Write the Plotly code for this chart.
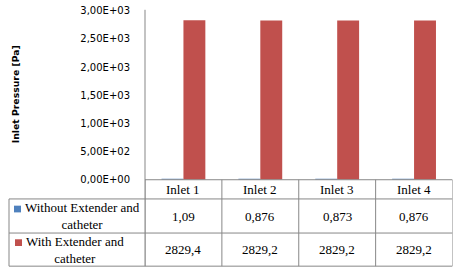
import plotly.graph_objects as go

categories = ["Inlet 1", "Inlet 2", "Inlet 3", "Inlet 4"]
series_names = ["Without Extender and<br>catheter", "With Extender and<br>catheter"]
without_vals = [1.09, 0.876, 0.873, 0.876]
with_vals = [2829.4, 2829.2, 2829.2, 2829.2]
tick_vals = [0, 500, 1000, 1500, 2000, 2500, 3000]
tick_labels = ["0,00E+00", "5,00E+02", "1,00E+03", "1,50E+03", "2,00E+03", "2,50E+03", "3,00E+03"]
colors = ["#4F81BD", "#C0504D"]

W, H = 456, 276
def py(p):
    return (H - p) / H
def px(p):
    return p / W

grid = "#878787"
serif = "Times New Roman, Liberation Serif, serif"

fig = go.Figure()
for name, vals, c in zip(series_names, [without_vals, with_vals], colors):
    fig.add_trace(go.Bar(x=categories, y=vals, name=name, hoverinfo="skip",
                         marker=dict(color=c, line=dict(width=0))))

shapes = []
shapes.append(dict(type="line", xref="paper", yref="paper", x0=px(145), x1=px(145), y0=py(5), y1=py(272), line=dict(color=grid, width=1)))
for yy in [182, 202, 237.5, 272]:
    shapes.append(dict(type="line", xref="x", yref="paper", x0=-0.5, x1=3.5, y0=py(yy), y1=py(yy), line=dict(color=grid, width=1)))
for i in range(len(categories) + 1):
    shapes.append(dict(type="line", xref="x", yref="paper", x0=i - 0.5, x1=i - 0.5, y0=py(182), y1=py(272), line=dict(color=grid, width=1)))
for yy in [202, 237.5, 272]:
    shapes.append(dict(type="line", xref="paper", yref="paper", x0=px(9), x1=px(145), y0=py(yy), y1=py(yy), line=dict(color=grid, width=1)))
shapes.append(dict(type="line", xref="paper", yref="paper", x0=px(9), x1=px(9), y0=py(202), y1=py(272), line=dict(color=grid, width=1)))
key_pos = [(14, 209), (15, 244)]
for (kx, ky), c in zip(key_pos, colors):
    shapes.append(dict(type="rect", xref="paper", yref="paper", x0=px(kx), x1=px(kx + 7), y0=py(ky), y1=py(ky + 7), fillcolor=c, line=dict(width=0)))

tf = dict(family=serif, size=13, color="#000")
annotations = []
for i, cat in enumerate(categories):
    annotations.append(dict(x=i, y=py(192.5), xref="x", yref="paper", text=cat, showarrow=False, xanchor="center", yanchor="middle", font=tf))
    annotations.append(dict(x=i, y=py(220), xref="x", yref="paper", text=str(without_vals[i]).replace(".", ","), showarrow=False, xanchor="center", yanchor="middle", font=tf))
    annotations.append(dict(x=i, y=py(255), xref="x", yref="paper", text=str(with_vals[i]).replace(".", ","), showarrow=False, xanchor="center", yanchor="middle", font=tf))
label_pos = [(82, 220), (75, 255)]
for (lx, ly), name in zip(label_pos, series_names):
    annotations.append(dict(x=px(lx), y=py(ly), xref="paper", yref="paper", text=name, showarrow=False, align="center", xanchor="center", yanchor="middle", font=tf))
annotations.append(dict(x=px(15), y=py(93), xref="paper", yref="paper", text="<b>Inlet Pressure [Pa]</b>", textangle=-90, showarrow=False, xanchor="center", yanchor="middle", font=dict(family="DejaVu Sans", size=9.3, color="#000")))

fig.update_layout(
    width=W, height=H, margin=dict(l=0, r=0, t=0, b=0),
    paper_bgcolor="white", plot_bgcolor="white",
    barmode="group", bargap=0.43, bargroupgap=0,
    showlegend=False,
    xaxis=dict(domain=[px(145), px(452.5)], range=[-0.5, 3.5], showticklabels=False, showline=False, showgrid=False, zeroline=False, ticks=""),
    yaxis=dict(domain=[py(182), py(6)], range=[0, 3000], tickvals=tick_vals, ticktext=tick_labels,
               showgrid=False, zeroline=False, showline=False, ticks="outside", ticklen=12, tickcolor="rgba(0,0,0,0)",
               tickfont=dict(family="DejaVu Sans", size=10, color="#000")),
    shapes=shapes, annotations=annotations,
)
fig.write_html("out.html", config={"displayModeBar": False},
               post_script="document.body.style.margin='0px';document.body.style.overflow='hidden';")
